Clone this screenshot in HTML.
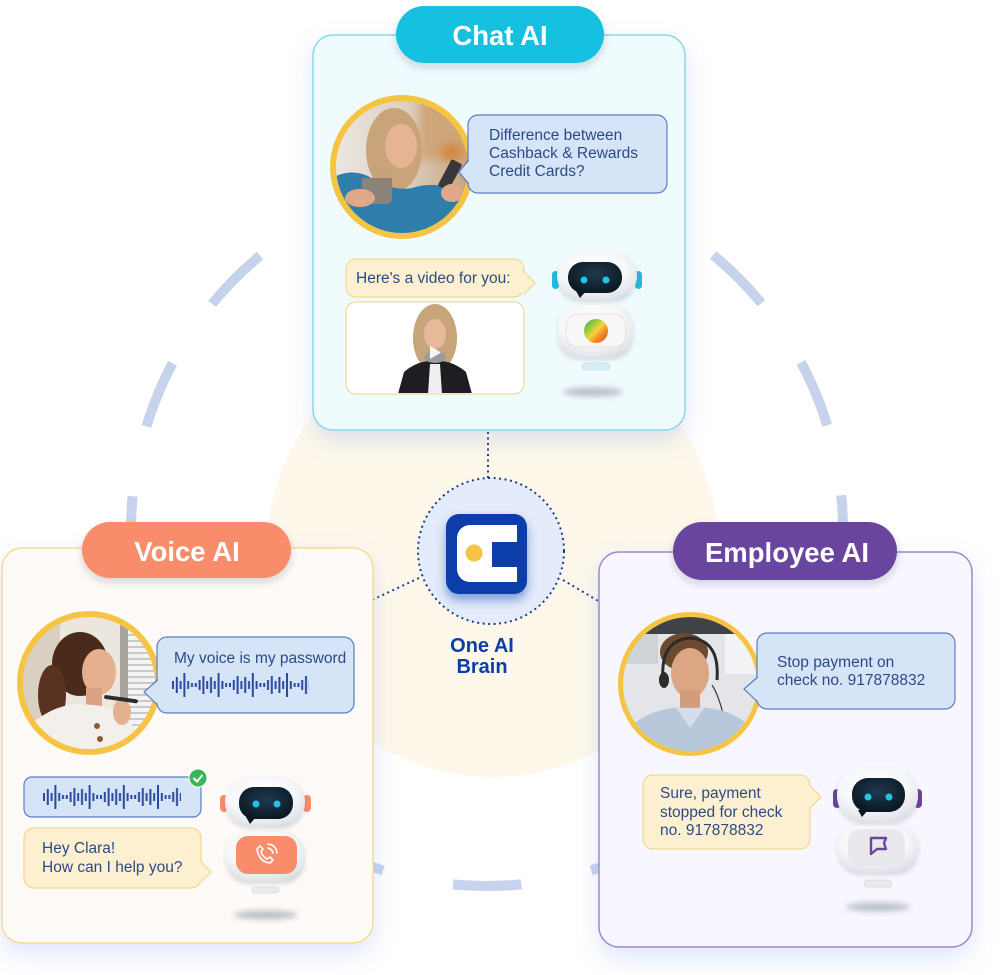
<!DOCTYPE html>
<html><head><meta charset="utf-8"><style>html,body{margin:0;padding:0;background:#fff;}svg{display:block}</style></head>
<body>
<svg width="1000" height="975" viewBox="0 0 1000 975" xmlns="http://www.w3.org/2000/svg" font-family="'Liberation Sans', sans-serif">
<defs>
  <filter id="cs" x="-20%" y="-20%" width="140%" height="150%"><feDropShadow dx="0" dy="10" stdDeviation="12" flood-color="#6f8fe8" flood-opacity="0.22"/></filter>
  <filter id="ps" x="-20%" y="-30%" width="140%" height="180%"><feDropShadow dx="0" dy="4" stdDeviation="4" flood-color="#203060" flood-opacity="0.18"/></filter>
  <filter id="ls" x="-30%" y="-30%" width="160%" height="180%"><feDropShadow dx="0" dy="6" stdDeviation="5" flood-color="#0b3ea8" flood-opacity="0.45"/></filter>
  <filter id="bl" x="-50%" y="-200%" width="200%" height="500%"><feGaussianBlur stdDeviation="3"/></filter>
  <filter id="sb" x="-50%" y="-50%" width="200%" height="200%"><feGaussianBlur stdDeviation="4"/></filter>
  <filter id="rb" x="-20%" y="-20%" width="140%" height="140%"><feDropShadow dx="0" dy="2" stdDeviation="2" flood-color="#000" flood-opacity="0.12"/></filter>
  <radialGradient id="wh" cx="45%" cy="35%" r="70%"><stop offset="0" stop-color="#ffffff"/><stop offset="0.6" stop-color="#f6f7f9"/><stop offset="1" stop-color="#d9dde3"/></radialGradient>
  <radialGradient id="scr" cx="50%" cy="40%" r="70%"><stop offset="0" stop-color="#1f3b4f"/><stop offset="1" stop-color="#08121c"/></radialGradient>
  <linearGradient id="rain" x1="0" y1="0" x2="1" y2="1"><stop offset="0" stop-color="#2ea86a"/><stop offset="0.3" stop-color="#9ccb3b"/><stop offset="0.5" stop-color="#f4d23f"/><stop offset="0.7" stop-color="#f08a24"/><stop offset="1" stop-color="#e23a3a"/></linearGradient>
  <linearGradient id="cbg" x1="0" y1="0" x2="1" y2="0"><stop offset="0" stop-color="#ebe8e4"/><stop offset="0.5" stop-color="#ddd0c0"/><stop offset="1" stop-color="#c39a6e"/></linearGradient>
  <pattern id="wv1" patternUnits="userSpaceOnUse" x="172" y="673" width="34.2" height="24">
    <g fill="#2a4aa0"><rect x="0" y="8" width="2" height="8"/><rect x="3.8" y="4" width="2" height="16"/><rect x="7.6" y="8" width="2" height="8"/><rect x="11.4" y="0" width="2" height="24"/><rect x="15.2" y="8" width="2" height="8"/><rect x="19" y="10" width="2" height="4"/><rect x="22.8" y="10" width="2" height="4"/><rect x="26.6" y="7" width="2" height="10"/><rect x="30.4" y="3" width="2" height="18"/></g>
  </pattern>
  <pattern id="wv2" patternUnits="userSpaceOnUse" x="43" y="785" width="34.2" height="24">
    <g fill="#2a4aa0"><rect x="0" y="8" width="2" height="8"/><rect x="3.8" y="4" width="2" height="16"/><rect x="7.6" y="8" width="2" height="8"/><rect x="11.4" y="0" width="2" height="24"/><rect x="15.2" y="8" width="2" height="8"/><rect x="19" y="10" width="2" height="4"/><rect x="22.8" y="10" width="2" height="4"/><rect x="26.6" y="7" width="2" height="10"/><rect x="30.4" y="3" width="2" height="18"/></g>
  </pattern>
  <pattern id="blinds" patternUnits="userSpaceOnUse" x="0" y="0" width="10" height="6"><rect width="10" height="6" fill="#f4f4f4"/><rect y="4" width="10" height="2" fill="#c9c9c9"/></pattern>
  <clipPath id="c1"><circle cx="402" cy="167" r="66"/></clipPath>
  <clipPath id="c2"><circle cx="89" cy="683" r="66"/></clipPath>
  <clipPath id="c3"><circle cx="690" cy="684" r="67"/></clipPath>
  <clipPath id="vb"><rect x="347" y="303" width="176" height="90" rx="9"/></clipPath>
</defs>

<rect width="1000" height="975" fill="#ffffff"/>

<!-- big dashed ring -->
<circle cx="487" cy="530" r="356" fill="none" stroke="#c7d3ec" stroke-width="10" pathLength="360" stroke-dasharray="11 11.5" stroke-dashoffset="5.5"/>

<!-- cream circle -->
<circle cx="493" cy="551" r="226" fill="#fdf8ea"/>

<!-- connectors -->
<g stroke="#1b3b8f" stroke-width="2" stroke-dasharray="2 3.5" fill="none">
  <line x1="488" y1="432" x2="488" y2="478"/>
  <line x1="419" y1="578" x2="372" y2="600"/>
  <line x1="563" y1="580" x2="600" y2="602"/>
  <circle cx="491" cy="551" r="73" fill="#e4ebfa"/>
</g>

<!-- logo -->
<rect x="446" y="514" width="81" height="80" rx="13" fill="#0b3ea8" filter="url(#ls)"/>
<path d="M470 525 H517 V542 H492 V567 H517 V582 H470 A13 13 0 0 1 457 569 V538 A13 13 0 0 1 470 525 Z" fill="#ffffff"/>
<circle cx="474" cy="553" r="8.5" fill="#f5c443"/>
<text x="482" y="652" text-anchor="middle" font-size="20" font-weight="bold" fill="#0b3ea8">One AI</text>
<text x="482" y="673" text-anchor="middle" font-size="20" font-weight="bold" fill="#0b3ea8">Brain</text>

<!-- ================= CHAT CARD ================= -->
<rect x="313" y="35" width="372" height="395" rx="20" fill="#effbfd" stroke="#86d9ea" stroke-width="1.5" filter="url(#cs)"/>
<rect x="396" y="6" width="208" height="57" rx="28.5" fill="#19c0e0" filter="url(#ps)"/>
<text x="500" y="45" text-anchor="middle" font-size="27.5" font-weight="bold" fill="#ffffff">Chat AI</text>

<!-- woman photo -->
<circle cx="402" cy="167" r="72" fill="#f5c443"/>
<g clip-path="url(#c1)">
  <rect x="330" y="95" width="150" height="150" fill="url(#cbg)"/>
  <rect x="420" y="100" width="60" height="60" fill="#cfa57a" filter="url(#sb)"/>
  <ellipse cx="452" cy="152" rx="12" ry="9" fill="#d28a45" filter="url(#sb)"/>
  <ellipse cx="394" cy="150" rx="28" ry="42" fill="#c9a47a"/>
  <ellipse cx="382" cy="195" rx="14" ry="26" fill="#c7a27a"/>
  <ellipse cx="401" cy="146" rx="16" ry="22" fill="#e6b393"/>
  <path d="M330 245 L332 178 Q350 168 368 176 Q392 192 412 188 Q442 178 476 200 L478 245 Z" fill="#2f7dab"/>
  <path d="M362 178 h30 v20 q0 6 -6 6 h-18 q-6 0 -6 -6 Z" fill="#8d8278"/>
  <ellipse cx="360" cy="198" rx="15" ry="9" fill="#dfa987"/>
  <rect x="444" y="160" width="12" height="30" rx="2" fill="#383838" transform="rotate(28 450 175)"/>
  <ellipse cx="452" cy="193" rx="11" ry="9" fill="#dfa987"/>
</g>

<!-- chat bubble -->
<rect x="468" y="115" width="199" height="78" rx="10" fill="#d6e4f7" stroke="#5b7dc6" stroke-width="1.2"/>
<polygon points="470,160 459,172 470,184" fill="#d6e4f7"/>
<polyline points="468.6,160 459,172 468.6,184" fill="none" stroke="#5b7dc6" stroke-width="1.2"/>
<g font-size="15.5" fill="#2c4a86">
  <text x="489" y="140">Difference between</text>
  <text x="489" y="158">Cashback &amp; Rewards</text>
  <text x="489" y="176">Credit Cards?</text>
</g>

<!-- here's a video -->
<rect x="346" y="259" width="178" height="38" rx="10" fill="#fdf0d0" stroke="#f0d990" stroke-width="1.2"/>
<polygon points="522,271 535,283 522,295" fill="#fdf0d0"/>
<polyline points="523.4,271 535,283 523.4,295" fill="none" stroke="#f0d990" stroke-width="1.2"/>
<text x="356" y="283" font-size="15.5" fill="#2c4a86">Here's a video for you:</text>

<!-- video box -->
<rect x="346" y="302" width="178" height="92" rx="10" fill="#ffffff" stroke="#f0d9a0" stroke-width="1.2"/>
<g clip-path="url(#vb)">
  <ellipse cx="435" cy="338" rx="22" ry="34" fill="#c8a47a"/>
  <ellipse cx="435" cy="334" rx="11" ry="15" fill="#e6b99b"/>
  <path d="M398 394 L404 372 Q418 360 435 361 Q452 360 466 372 L472 394 Z" fill="#1e1e22"/>
  <path d="M428 394 L430 364 L440 364 L442 394 Z" fill="#efefef"/>
  <ellipse cx="435" cy="357" rx="11" ry="6" fill="#9c9c9c"/>
  <polygon points="430,346 430,359 441,352.5" fill="#ffffff" opacity="0.9"/>
</g>

<!-- chat robot -->
<ellipse cx="593" cy="392" rx="30" ry="4.5" fill="#b9c0c8" filter="url(#bl)"/>
<rect x="552" y="271" width="7" height="18" rx="3.5" fill="#25b9dc"/>
<rect x="635" y="271" width="7" height="18" rx="3.5" fill="#25b9dc"/>
<rect x="558" y="305" width="75" height="53" rx="22" fill="url(#wh)" filter="url(#rb)"/>
<rect x="566" y="314" width="60" height="33" rx="12" fill="#f7f7f7" stroke="#ead7d7" stroke-width="0.8"/>
<circle cx="596" cy="331" r="12" fill="url(#rain)"/>
<rect x="582" y="363" width="28" height="7" rx="3.5" fill="#d8eef5" stroke="#bfe3ee" stroke-width="0.8"/>
<rect x="557" y="252" width="80" height="48" rx="24" fill="url(#wh)" filter="url(#rb)"/>
<rect x="568" y="262" width="54" height="31" rx="15" fill="url(#scr)"/>
<polygon points="576,291 580,298 586,291" fill="#0b1622"/>
<circle cx="584" cy="280" r="3.5" fill="#22c3e6"/>
<circle cx="606" cy="280" r="3.5" fill="#22c3e6"/>

<!-- ================= VOICE CARD ================= -->
<rect x="2" y="548" width="371" height="395" rx="20" fill="#fefaf7" stroke="#f6dc90" stroke-width="1.5" filter="url(#cs)"/>
<rect x="82" y="522" width="209" height="56" rx="28" fill="#f98c6a" filter="url(#ps)"/>
<text x="187" y="561" text-anchor="middle" font-size="27.5" font-weight="bold" fill="#ffffff">Voice AI</text>

<circle cx="89" cy="683" r="72" fill="#f5c443"/>
<g clip-path="url(#c2)">
  <rect x="17" y="611" width="145" height="145" fill="#ebe6de"/>
  <rect x="20" y="611" width="40" height="145" fill="#d9cfc2"/>
  <rect x="128" y="611" width="30" height="145" fill="url(#blinds)"/>
  <rect x="120" y="611" width="8" height="145" fill="#a9a49c"/>
  <ellipse cx="80" cy="664" rx="28" ry="32" fill="#4a2b1b"/>
  <ellipse cx="52" cy="695" rx="14" ry="30" fill="#5a3320"/>
  <ellipse cx="99" cy="672" rx="17" ry="23" fill="#e4b08f"/>
  <rect x="86" y="688" width="16" height="20" fill="#d9a281"/>
  <path d="M28 760 L34 722 Q60 700 92 705 Q120 706 136 730 L142 760 Z" fill="#f3f0eb"/>
  <circle cx="97" cy="726" r="3" fill="#8a5a36"/>
  <circle cx="100" cy="739" r="3" fill="#8a5a36"/>
  <circle cx="102" cy="751" r="3" fill="#8a5a36"/>
  <ellipse cx="122" cy="712" rx="9" ry="13" fill="#e4b08f"/>
  <rect x="104" y="697" width="34" height="4" rx="2" fill="#2d2d2d" transform="rotate(8 120 699)"/>
</g>

<rect x="157" y="637" width="197" height="76" rx="10" fill="#d6e4f7" stroke="#5b7dc6" stroke-width="1.2"/>
<polygon points="159,680 144,692 159,705" fill="#d6e4f7"/>
<polyline points="157.6,680 144,692 157.6,705" fill="none" stroke="#5b7dc6" stroke-width="1.2"/>
<text x="174" y="663" font-size="15.5" fill="#2c4a86">My voice is my password</text>
<rect x="172" y="673" width="137" height="24" fill="url(#wv1)"/>

<rect x="24" y="777" width="177" height="40" rx="8" fill="#d6e4f7" stroke="#5b7dc6" stroke-width="1.2"/>
<rect x="43" y="785" width="138" height="24" fill="url(#wv2)"/>
<circle cx="198" cy="778" r="9" fill="#3cb45a" stroke="#ffffff" stroke-width="1"/>
<polyline points="193.5,778 197,781.5 202.5,775" fill="none" stroke="#ffffff" stroke-width="2"/>

<rect x="24" y="828" width="177" height="60" rx="10" fill="#fdf0d0" stroke="#f0d990" stroke-width="1.2"/>
<polygon points="199,861 211,872 199,883" fill="#fdf0d0"/>
<polyline points="200.4,861 211,872 200.4,883" fill="none" stroke="#f0d990" stroke-width="1.2"/>
<g font-size="15.5" fill="#2c4a86">
  <text x="42" y="853">Hey Clara!</text>
  <text x="42" y="872">How can I help you?</text>
</g>

<!-- voice robot -->
<ellipse cx="266" cy="915" rx="32" ry="4.5" fill="#b9c0c8" filter="url(#bl)"/>
<rect x="220" y="795" width="8" height="17" rx="4" fill="#f98c6a"/>
<rect x="303" y="795" width="8" height="17" rx="4" fill="#f98c6a"/>
<rect x="226" y="832" width="79" height="50" rx="22" fill="url(#wh)" filter="url(#rb)"/>
<rect x="236" y="836" width="61" height="38" rx="12" fill="#f98c6a"/>
<g fill="none" stroke="#ffffff" stroke-width="1.6" stroke-linecap="round" stroke-linejoin="round">
  <path d="M260 846 L263 849 L261 852 Q263 857 267 859 L270 857 L273 860 L270 863 Q259 862 257 849 Z"/>
  <path d="M268 848 Q272 849 273 853"/>
  <path d="M268 844 Q276 845 277 853"/>
</g>
<rect x="252" y="887" width="27" height="6" rx="3" fill="#e9ebee" stroke="#d6d9de" stroke-width="0.8"/>
<rect x="225" y="777" width="80" height="50" rx="25" fill="url(#wh)" filter="url(#rb)"/>
<rect x="239" y="787" width="54" height="32" rx="15" fill="url(#scr)"/>
<polygon points="246,817 250,824 256,817" fill="#0b1622"/>
<circle cx="256" cy="804" r="3.5" fill="#22c3e6"/>
<circle cx="277" cy="804" r="3.5" fill="#22c3e6"/>

<!-- ================= EMPLOYEE CARD ================= -->
<rect x="599" y="552" width="373" height="395" rx="20" fill="#f8f6fe" stroke="#9d89cc" stroke-width="1.5" filter="url(#cs)"/>
<rect x="673" y="522" width="224" height="58" rx="29" fill="#6a45a0" filter="url(#ps)"/>
<text x="787" y="562" text-anchor="middle" font-size="27.5" font-weight="bold" fill="#ffffff">Employee AI</text>

<circle cx="690" cy="684" r="72" fill="#f5c443"/>
<g clip-path="url(#c3)">
  <rect x="618" y="612" width="145" height="145" fill="#e3e5e8"/>
  <rect x="618" y="612" width="145" height="22" fill="#3f4347"/>
  <rect x="618" y="634" width="40" height="30" fill="#cfd2d6"/>
  <rect x="725" y="634" width="40" height="40" fill="#f2f3f4"/>
  <ellipse cx="684" cy="652" rx="24" ry="19" fill="#6b4a30"/>
  <ellipse cx="690" cy="673" rx="19" ry="25" fill="#dca685"/>
  <rect x="680" y="690" width="20" height="22" fill="#d39d7c"/>
  <path d="M663 680 Q660 640 690 638 Q720 640 717 680" fill="none" stroke="#2b2b2b" stroke-width="3"/>
  <ellipse cx="664" cy="680" rx="5" ry="8" fill="#2b2b2b"/>
  <path d="M712 685 Q722 700 728 740" fill="none" stroke="#3a3a3a" stroke-width="1.2"/>
  <path d="M622 760 L628 728 Q655 705 690 708 Q728 705 752 728 L758 760 Z" fill="#b8c8db"/>
  <path d="M676 708 L690 728 L704 708 Z" fill="#d4dde8"/>
</g>

<rect x="757" y="633" width="198" height="76" rx="10" fill="#d6e4f7" stroke="#5b7dc6" stroke-width="1.2"/>
<polygon points="759,677 744,689 759,702" fill="#d6e4f7"/>
<polyline points="757.6,677 744,689 757.6,702" fill="none" stroke="#5b7dc6" stroke-width="1.2"/>
<g font-size="15.5" fill="#2c4a86">
  <text x="777" y="667">Stop payment on</text>
  <text x="777" y="685">check no. 917878832</text>
</g>

<rect x="643" y="775" width="167" height="74" rx="10" fill="#fdf0d0" stroke="#f0d990" stroke-width="1.2"/>
<polygon points="808,785 821,797 808,809" fill="#fdf0d0"/>
<polyline points="809.4,785 821,797 809.4,809" fill="none" stroke="#f0d990" stroke-width="1.2"/>
<g font-size="15.5" fill="#2c4a86">
  <text x="660" y="798">Sure, payment</text>
  <text x="660" y="817">stopped for check</text>
  <text x="660" y="835">no. 917878832</text>
</g>

<!-- employee robot -->
<ellipse cx="878" cy="907" rx="32" ry="4.5" fill="#b9c0c8" filter="url(#bl)"/>
<rect x="833" y="789" width="8" height="19" rx="4" fill="#6a45a0"/>
<rect x="914" y="789" width="8" height="19" rx="4" fill="#6a45a0"/>
<rect x="838" y="825" width="80" height="48" rx="22" fill="url(#wh)" filter="url(#rb)"/>
<rect x="848" y="829" width="57" height="37" rx="12" fill="#e8e8ed"/>
<path d="M871 838 H886 L884 843 L886 849 H877 L871 854 Z" fill="none" stroke="#6a45a0" stroke-width="2.4" stroke-linejoin="round"/>
<rect x="864" y="880" width="28" height="7" rx="3.5" fill="#e9ebee" stroke="#d6d9de" stroke-width="0.8"/>
<rect x="837" y="768" width="81" height="54" rx="26" fill="url(#wh)" filter="url(#rb)"/>
<rect x="852" y="778" width="53" height="34" rx="16" fill="url(#scr)"/>
<polygon points="858,810 862,817 868,810" fill="#0b1622"/>
<circle cx="868" cy="797" r="3.5" fill="#22c3e6"/>
<circle cx="889" cy="797" r="3.5" fill="#22c3e6"/>

</svg>
</body></html>
